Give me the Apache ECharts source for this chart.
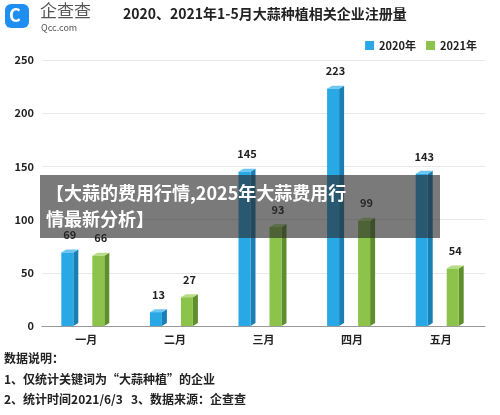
<!DOCTYPE html>
<html><head><meta charset="utf-8">
<script src="https://cdn.jsdelivr.net/npm/echarts@6/dist/echarts.min.js"></script>
<style>html,body{margin:0;background:#fff}#c{width:500px;height:415px}</style>
</head><body><div id="c"></div>
<script>
var months = ['一月', '二月', '三月', '四月', '五月'];
var v2020 = [69, 13, 145, 223, 143];
var v2021 = [66, 27, 93, 99, 54];
var chart = echarts.init(document.getElementById('c'));
var F = '"Noto Sans CJK SC", sans-serif';

function bar3d(off, front, side, top) {
  return function (params, api) {
    var c = api.coord([api.value(0), api.value(1)]);
    var base = api.coord([api.value(0), 0]);
    var x = c[0] + off, w = 12, d = 5, h = 3;
    return {
      type: 'group', children: [
        {type: 'polygon', shape: {points: [[x + w, c[1]], [x + w + d, c[1] - h], [x + w + d, base[1] - h], [x + w, base[1]]]}, style: {fill: side}},
        {type: 'polygon', shape: {points: [[x, c[1]], [x + d, c[1] - h], [x + w + d, c[1] - h], [x + w, c[1]]]}, style: {fill: top}},
        {type: 'rect', shape: {x: x, y: c[1], width: w, height: base[1] - c[1]}, style: {fill: front}},
        {type: 'text', style: {text: String(api.value(1)), x: x + (w + d) / 2, y: c[1] - 12, textAlign: 'center', textVerticalAlign: 'bottom', fill: '#222', font: 'bold 11px ' + F}}
      ]
    };
  };
}

chart.setOption({
  animation: false,
  textStyle: {fontFamily: F},
  grid: {left: 42, right: 15, top: 60, bottom: 89},
  legend: {
    right: 18, top: 35, itemWidth: 9, itemHeight: 9, itemGap: 10,
    textStyle: {fontSize: 11, fontWeight: 'bold', color: '#222'},
    data: [{name: '2020年', icon: 'rect', itemStyle: {color: '#29a8e6'}}, {name: '2021年', icon: 'rect', itemStyle: {color: '#8cc34b'}}]
  },
  xAxis: {
    type: 'category', data: months,
    axisLine: {lineStyle: {color: '#999'}}, axisTick: {show: false},
    axisLabel: {color: '#222', fontWeight: 'bold', fontSize: 11}
  },
  yAxis: {
    type: 'value', min: 0, max: 250, interval: 50,
    axisLine: {show: false}, axisTick: {show: false},
    splitLine: {lineStyle: {color: '#e8e8e8'}},
    axisLabel: {color: '#222', fontWeight: 'bold', fontSize: 11}
  },
  series: [
    {name: '2020年', type: 'custom', renderItem: bar3d(-25, '#29a8e6', '#1a7fb3', '#6cc6f2'), data: v2020.map(function (v, i) { return [i, v]; }), itemStyle: {color: '#29a8e6'}, z: 3},
    {name: '2021年', type: 'custom', renderItem: bar3d(6, '#8cc34b', '#5e8f2c', '#b6dc86'), data: v2021.map(function (v, i) { return [i, v]; }), itemStyle: {color: '#8cc34b'}, z: 3}
  ],
  graphic: [
    {type: 'rect', left: 5, top: 4, shape: {width: 24, height: 24, r: 6}, style: {fill: '#1e8ff0'}},
    {type: 'text', left: 9, top: 6, style: {text: 'C', fill: '#fff', font: 'bold 18px ' + F}},
    {type: 'text', left: 40, top: 2, style: {text: '企查查', fill: '#555', font: '17px ' + F}},
    {type: 'text', left: 41, top: 23, style: {text: 'Qcc.com', fill: '#555', font: '9px ' + F}},
    {type: 'text', left: 123, top: 7, style: {text: '2020、2021年1-5月大蒜种植相关企业注册量', fill: '#222', font: 'bold 14px ' + F}},
    {type: 'rect', left: 40, top: 175, z: 100, shape: {width: 400, height: 63}, style: {fill: 'rgba(40,40,40,0.62)'}},
    {type: 'text', left: 46, top: 180, z: 101, style: {text: '【大蒜的费用行情,2025年大蒜费用行\n情最新分析】', fill: '#fff', font: 'bold 18px ' + F, lineHeight: 26}},
    {type: 'text', left: 4, top: 352, style: {text: '数据说明：', fill: '#222', font: 'bold 12px ' + F}},
    {type: 'text', left: 4, top: 373, style: {text: '1、仅统计关键词为“大蒜种植”的企业', fill: '#222', font: 'bold 12px ' + F}},
    {type: 'text', left: 4, top: 393, style: {text: '2、统计时间2021/6/3   3、数据来源：企查查', fill: '#222', font: 'bold 12px ' + F}}
  ]
});
</script></body></html>
